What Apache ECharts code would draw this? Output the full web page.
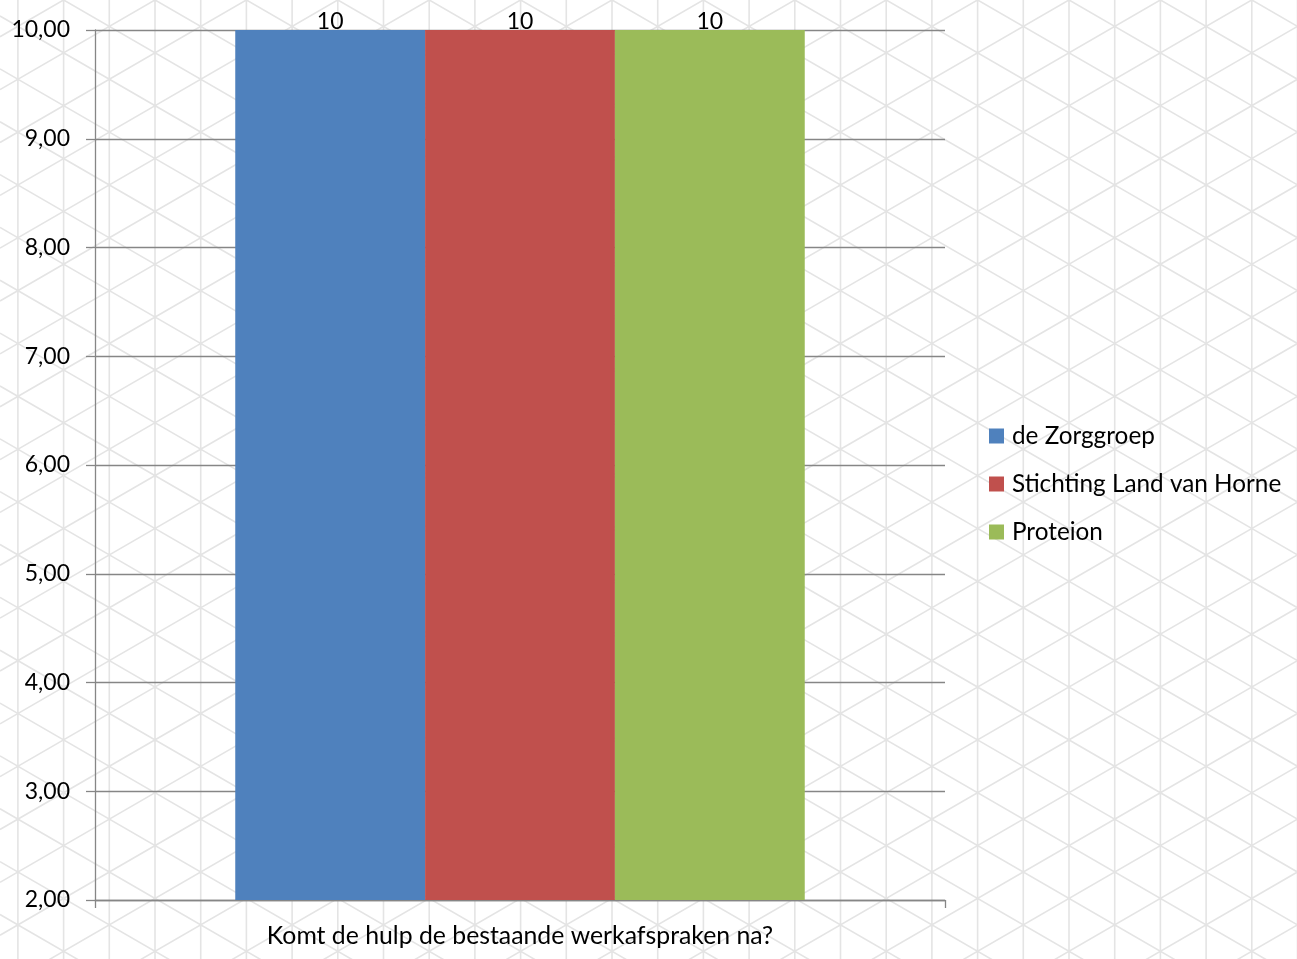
<!DOCTYPE html>
<html>
<head>
<meta charset="utf-8">
<script src="https://cdn.jsdelivr.net/npm/echarts@6/dist/echarts.min.js"></script>
<style>
html,body{margin:0;padding:0;background:#fff;}
#chart{width:1297px;height:959px;}
</style>
</head>
<body>
<div id="chart"></div>
<script>
// ---- data ----
const categories = ['Komt de hulp de bestaande werkafspraken na?'];
const seriesNames = ['de Zorggroep', 'Stichting Land van Horne', 'Proteion'];
const zorggroepValues = [10];
const landVanHorneValues = [10];
const proteionValues = [10];
const yTickMin = 2, yTickMax = 10, yTickStep = 1;

// ---- decorative lattice background ----
(function () {
  const W = 1297, H = 959;
  const c = document.createElement('canvas');
  c.width = W; c.height = H;
  const g = c.getContext('2d');
  g.fillStyle = '#ffffff';
  g.fillRect(0, 0, W, H);
  g.strokeStyle = '#e4e4e4';
  g.lineWidth = 1.6;
  const dx = 45.7, dy = 52.85, x0 = 17.9, y0 = 26.4, s = dy / (2 * dx);
  g.beginPath();
  for (let n = -1; n < 32; n++) {
    const x = x0 + n * dx;
    g.moveTo(x, 0); g.lineTo(x, H);
  }
  for (let k = -20; k < 40; k++) {
    const yA = y0 - s * x0 + k * dy;
    g.moveTo(0, yA); g.lineTo(W, yA + s * W);
    const yB = y0 + s * x0 + k * dy;
    g.moveTo(0, yB); g.lineTo(W, yB - s * W);
  }
  g.stroke();
  document.getElementById('chart').style.background = 'url(' + c.toDataURL() + ') no-repeat';
})();

const FONT = 'Lato';
const axisGray = '#868686';
const chart = echarts.init(document.getElementById('chart'), null, {renderer: 'canvas'});

function barSeries(name, data, color) {
  return {
    name: name,
    type: 'bar',
    data: data,
    barGap: '0%',
    barCategoryGap: '33%',
    itemStyle: {color: color},
    label: {
      show: true,
      position: 'top',
      distance: -3,
      color: '#000',
      fontFamily: FONT,
      fontSize: 23
    }
  };
}

chart.setOption({
  backgroundColor: 'transparent',
  animation: false,
  textStyle: {fontFamily: FONT},
  grid: {left: 95, right: 352, top: 30, bottom: 59, containLabel: false},
  legend: {
    orient: 'vertical',
    left: 989,
    top: 421,
    padding: 0,
    icon: 'rect',
    itemWidth: 15,
    itemHeight: 15,
    itemGap: 18,
    textStyle: {fontFamily: FONT, fontSize: 24.3, color: '#000', lineHeight: 30, padding: [0, 0, 0, 3]},
    data: seriesNames
  },
  xAxis: {
    type: 'category',
    data: categories,
    axisLine: {show: true, lineStyle: {color: axisGray, width: 1.3}},
    axisTick: {show: true, length: 8, lineStyle: {color: axisGray, width: 1.3}},
    axisLabel: {color: '#000', fontFamily: FONT, fontSize: 24.8, margin: 24},
    splitLine: {show: false}
  },
  yAxis: {
    type: 'value',
    min: yTickMin,
    max: yTickMax,
    interval: yTickStep,
    axisLine: {show: true, lineStyle: {color: axisGray, width: 1.3}},
    axisTick: {show: true, length: 9, lineStyle: {color: axisGray, width: 1.3}},
    axisLabel: {
      color: '#000', fontFamily: FONT, fontSize: 23, margin: 25,
      formatter: v => v.toFixed(2).replace('.', ',')
    },
    splitLine: {show: true, lineStyle: {color: axisGray, width: 1.3}}
  },
  series: [
    barSeries(seriesNames[0], zorggroepValues, '#4F81BD'),
    barSeries(seriesNames[1], landVanHorneValues, '#C0504D'),
    barSeries(seriesNames[2], proteionValues, '#9BBB59')
  ]
});
</script>
</body>
</html>
